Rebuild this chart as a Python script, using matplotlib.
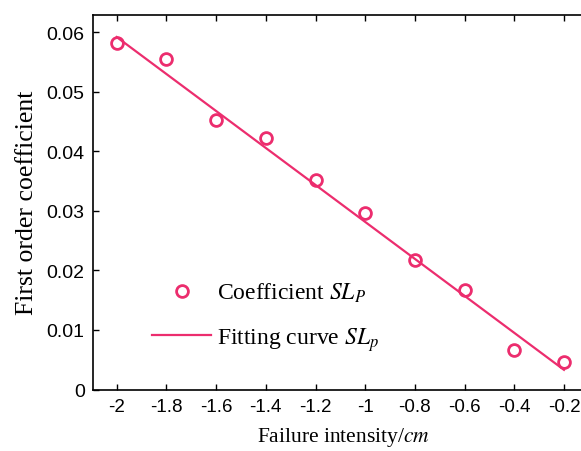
import numpy as np
import matplotlib
matplotlib.use("Agg")
import matplotlib.pyplot as plt

# values
intensity = [-2.0, -1.8, -1.6, -1.4, -1.2, -1.0, -0.8, -0.6, -0.4, -0.2]
coef = [0.0582, 0.0555, 0.0452, 0.0423, 0.0352, 0.0297, 0.0218, 0.0167, 0.0067, 0.0047]

# fitted straight line (end points)
fit_x = [-2.0, -0.2]
fit_y = [0.0592, 0.0033]

xticks = [-2.0, -1.8, -1.6, -1.4, -1.2, -1.0, -0.8, -0.6, -0.4, -0.2]
xtick_labels = ["-2", "-1.8", "-1.6", "-1.4", "-1.2", "-1", "-0.8", "-0.6", "-0.4", "-0.2"]
yticks = [0, 0.01, 0.02, 0.03, 0.04, 0.05, 0.06]
ytick_labels = ["0", "0.01", "0.02", "0.03", "0.04", "0.05", "0.06"]

pink = "#EC2D6E"

plt.rcParams["mathtext.fontset"] = "stix"
plt.rcParams["font.family"] = "Liberation Serif"

fig = plt.figure(figsize=(5.81, 4.52), dpi=100)
# right spine sits just outside the picture, as in the reference
ax = fig.add_axes([93 / 581, 1 - 390.5 / 452, 500 / 581, (390.5 - 16) / 452])

ax.plot(intensity, coef, "o", mfc="none", mec=pink, mew=2, ms=8.5,
        label="Coefficient $SL_P$")
ax.plot(fit_x, fit_y, "-", color=pink, lw=1.6, label="Fitting curve $SL_p$")

ax.set_xlim(-2.0954, -0.0833)
ax.set_ylim(0, 0.0629)
ax.set_xticks(xticks)
ax.set_xticklabels(xtick_labels, family="Liberation Sans", fontsize=13.5)
ax.set_yticks(yticks)
ax.set_yticklabels(ytick_labels, family="Liberation Sans", fontsize=14)
ax.tick_params(direction="in", top=True, right=True, length=4, width=1, pad=6)
for s in ax.spines.values():
    s.set_linewidth(1.2)

ax.set_xlabel("Failure intensity/$cm$", fontsize=15.5, labelpad=7)
ax.set_ylabel("First order coefficient", fontsize=18.5, labelpad=6)

ax.legend(loc="upper left", bbox_to_anchor=(0.10, 0.315), frameon=False,
          fontsize=17, handlelength=2.5, handletextpad=0.25, labelspacing=0.88,
          borderaxespad=0)

fig.savefig("out.png", dpi=100)
